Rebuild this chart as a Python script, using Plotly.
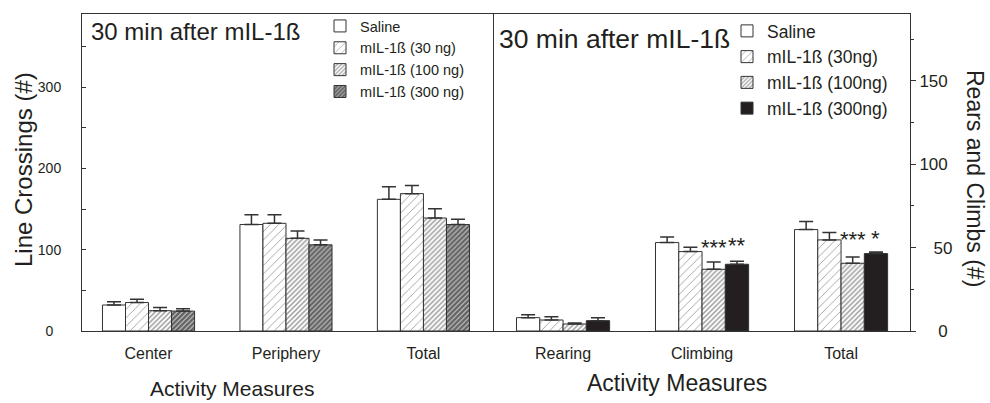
import plotly.graph_objects as go

# ---------------- data ----------------
left_categories = ["Center", "Periphery", "Total"]
right_categories = ["Rearing", "Climbing", "Total"]

left_names = ["Saline", "mIL-1ß (30 ng)", "mIL-1ß (100 ng)", "mIL-1ß (300 ng)"]
right_names = ["Saline", "mIL-1ß (30ng)", "mIL-1ß (100ng)", "mIL-1ß (300ng)"]

# Line crossings (left panel)
saline_lc = [32, 131, 162]
saline_lc_err = [4, 12, 15.5]
ng30_lc = [35, 132.5, 169]
ng30_lc_err = [4, 10.5, 10]
ng100_lc = [25, 114, 139]
ng100_lc_err = [4, 9, 11.5]
ng300_lc = [24.5, 106, 131]
ng300_lc_err = [3, 6, 6.5]

# Rears and climbs (right panel)
saline_rc = [8, 53, 60.8]
saline_rc_err = [1.8, 3.4, 4.9]
ng30_rc = [6.6, 47.6, 54.6]
ng30_rc_err = [2, 2.6, 4.4]
ng100_rc = [4.2, 37, 40.6]
ng100_rc_err = [0.6, 4.4, 3.8]
ng300_rc = [6.2, 40, 46.4]
ng300_rc_err = [1.8, 1.8, 1.0]

# significance marks: (category index, group index, label, y)
sig_cat = [1, 1, 2, 2]
sig_group = [2, 3, 2, 3]
sig_text = ["***", "**", "***", "*"]
sig_y = [50, 51, 55, 55.5]

left_ticks = [0, 100, 200, 300]
right_ticks = [0, 50, 100, 150]

panel_title = "30 min after mIL-1ß"

# ---------------- styling ----------------
FONT = "Liberation Sans, Arial, Helvetica, sans-serif"
INK = "#231f20"
LINE = "#333333"
BARGAP = 0.33

fills = [
    dict(color="white", pattern=dict(shape="")),
    dict(color="white", pattern=dict(shape="/", size=6, solidity=0.14, fgcolor=LINE, bgcolor="white", fillmode="overlay")),
    dict(color="white", pattern=dict(shape="/", size=3.5, solidity=0.42, fgcolor="#333333", bgcolor="white", fillmode="overlay")),
    dict(color="#c8c8c8", pattern=dict(shape="/", size=3.5, solidity=0.7, fgcolor="#000000", bgcolor="#c8c8c8", fillmode="overlay")),
]
right_fills = fills[:3] + [dict(color=INK, pattern=dict(shape=""))]

fig = go.Figure()

left_vals = [saline_lc, ng30_lc, ng100_lc, ng300_lc]
left_errs = [saline_lc_err, ng30_lc_err, ng100_lc_err, ng300_lc_err]
right_vals = [saline_rc, ng30_rc, ng100_rc, ng300_rc]
right_errs = [saline_rc_err, ng30_rc_err, ng100_rc_err, ng300_rc_err]

for i in range(4):
    fig.add_trace(go.Bar(
        x=left_categories, y=left_vals[i], name=left_names[i],
        xaxis="x", yaxis="y", legend="legend",
        offsetgroup=str(i),
        marker=dict(line=dict(color=LINE, width=1), **fills[i]),
        error_y=dict(type="data", symmetric=False, array=left_errs[i],
                     arrayminus=[0] * 3, color=LINE, thickness=1.5, width=7),
    ))
for i in range(4):
    fig.add_trace(go.Bar(
        x=right_categories, y=right_vals[i], name=right_names[i],
        xaxis="x2", yaxis="y2", legend="legend2",
        offsetgroup=str(i),
        marker=dict(line=dict(color=LINE, width=1), **right_fills[i]),
        error_y=dict(type="data", symmetric=False, array=right_errs[i],
                     arrayminus=[0] * 3, color=LINE, thickness=1.5, width=7),
    ))

# plot-area geometry in pixels
L, R, T, B = 82, 910, 14, 331
W, H = R - L, B - T
split = (493 - L) / W


def px(x):
    return (x - L) / W


def py(y):
    return (B - y) / H


fig.update_layout(
    width=990, height=403,
    margin=dict(l=L, r=990 - R, t=T, b=403 - B, autoexpand=False),
    paper_bgcolor="white", plot_bgcolor="white",
    font=dict(family=FONT, color=INK),
    barmode="group", bargap=BARGAP, bargroupgap=0,
    xaxis=dict(domain=[0, split], range=[-0.484, 2.506], anchor="y",
               showline=True, linecolor=LINE, linewidth=1, mirror=True,
               ticks="", showgrid=False, zeroline=False, automargin=False,
               tickfont=dict(size=16, color=INK), ticklabelstandoff=8),
    # left axis: labels (invisible long outside ticks push labels away)
    yaxis=dict(domain=[0, 1], range=[0, 390], anchor="x",
               showline=True, linecolor=LINE, linewidth=1, mirror=True,
               ticks="outside", ticklen=17, tickcolor="rgba(0,0,0,0)",
               tickvals=left_ticks, ticktext=["0\u00a0\u00a0", "100", "200", "300"],
               showgrid=False, zeroline=False, automargin=False,
               tickfont=dict(size=14, color=INK)),
    # left axis: inside tick marks
    yaxis3=dict(domain=[0, 1], range=[0, 390], anchor="x", overlaying="y", side="left",
                showline=False, ticks="inside", ticklen=4, tickcolor=LINE,
                tick0=0, dtick=50, showticklabels=False,
                showgrid=False, zeroline=False, automargin=False),
    xaxis2=dict(domain=[split, 1], range=[-0.504, 2.496], anchor="y2",
                showline=True, linecolor=LINE, linewidth=1, mirror=True,
                ticks="", showgrid=False, zeroline=False, automargin=False,
                tickfont=dict(size=16, color=INK), ticklabelstandoff=8),
    yaxis2=dict(domain=[0, 1], range=[0, 190], anchor="x2", side="right",
                showline=True, linecolor=LINE, linewidth=1,
                ticks="outside", ticklen=5, tickcolor=LINE,
                tickvals=right_ticks,
                ticktext=["\u00a0\u00a0\u00a0\u00a00", "\u00a0\u00a0\u00a050", "100", "150"],
                minor=dict(ticks="outside", dtick=25, ticklen=3, tickcolor=LINE, showgrid=False),
                showgrid=False, zeroline=False, automargin=False,
                tickfont=dict(size=17, color=INK)),
    legend=dict(x=px(320), y=py(10), xanchor="left", yanchor="top",
                bgcolor="rgba(0,0,0,0)", font=dict(size=14.5, color=INK),
                tracegroupgap=0, itemclick=False),
    legend2=dict(x=px(727), y=py(13), xanchor="left", yanchor="top",
                 bgcolor="rgba(0,0,0,0)", font=dict(size=17.5, color=INK),
                 tracegroupgap=0, itemclick=False),
    showlegend=True,
)

# an invisible trace so the overlay tick axis is drawn
fig.add_trace(go.Scatter(x=[None], y=[None], xaxis="x", yaxis="y3",
                         showlegend=False, hoverinfo="skip"))

annotations = [
    dict(text=panel_title, x=px(89), y=py(31), xref="paper", yref="paper",
         xanchor="left", yanchor="middle", showarrow=False, font=dict(size=24, color=INK)),
    dict(text=panel_title, x=px(497), y=py(39), xref="paper", yref="paper",
         xanchor="left", yanchor="middle", showarrow=False, font=dict(size=26.5, color=INK)),
    dict(text="Line Crossings (#)", x=px(23), y=py(170), xref="paper", yref="paper",
         xanchor="center", yanchor="middle",
         textangle=-90, showarrow=False, font=dict(size=24, color=INK)),
    dict(text="Rears and Climbs (#)", x=px(975), y=py(179), xref="paper", yref="paper",
         xanchor="center", yanchor="middle",
         textangle=90, showarrow=False, font=dict(size=23, color=INK)),
    dict(text="Activity Measures", x=px(232), y=py(388), xref="paper", yref="paper",
         xanchor="center", yanchor="middle",
         showarrow=False, font=dict(size=21, color=INK)),
    dict(text="Activity Measures", x=px(677), y=py(383), xref="paper", yref="paper",
         xanchor="center", yanchor="middle",
         showarrow=False, font=dict(size=23, color=INK)),
]

group_w = 1 - BARGAP
bar_w = group_w / 4
for c, g, t, yv in zip(sig_cat, sig_group, sig_text, sig_y):
    annotations.append(dict(
        text=t, x=c - group_w / 2 + bar_w * (g + 0.5), y=yv, xref="x2", yref="y2",
        xanchor="center", yanchor="middle", showarrow=False,
        font=dict(size=22, color=INK)))

fig.update_layout(annotations=annotations)

fig.write_html("out.html", config={"displayModeBar": False},
               post_script="document.body.style.margin='0px';")
